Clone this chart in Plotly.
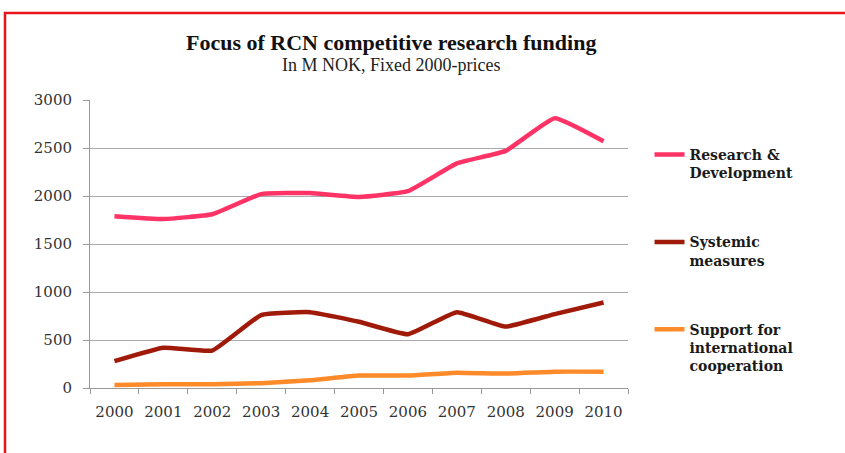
import plotly.graph_objects as go

years = ["2000", "2001", "2002", "2003", "2004", "2005", "2006", "2007", "2008", "2009", "2010"]
rd = [1790, 1760, 1810, 2020, 2030, 1990, 2050, 2340, 2470, 2810, 2570]
systemic = [280, 420, 390, 760, 790, 690, 560, 790, 640, 770, 890]
intl = [30, 40, 40, 50, 80, 130, 130, 160, 150, 170, 170]
names = ["Research &<br>Development", "Systemic<br>measures", "Support for<br>international<br>cooperation"]
colors = ["#FF3366", "#A01A0A", "#FF8A2A"]
yticks = [0, 500, 1000, 1500, 2000, 2500, 3000]

fig = go.Figure()
for i, (vals, nm, col) in enumerate(zip([rd, systemic, intl], names, colors)):
    fig.add_trace(go.Scatter(
        x=years, y=vals, name=nm, mode="lines",
        line=dict(color=col, width=4.5, shape="spline", smoothing=0.35),
        legendgroup=f"g{i}",
    ))

serif = "DejaVu Serif"
fig.update_layout(
    width=845, height=453,
    margin=dict(l=90, r=217, t=100, b=65),
    paper_bgcolor="white", plot_bgcolor="white",
    showlegend=True,
    legend=dict(
        x=1.04, y=0.865, xanchor="left", yanchor="top",
        font=dict(family=serif, size=14, color="#1a1a1a", weight="bold"),
        itemwidth=30, tracegroupgap=48, valign="top",
        bgcolor="rgba(0,0,0,0)",
    ),
    xaxis=dict(
        type="category", showgrid=False, showline=True, linecolor="#999999", linewidth=1,
        ticks="outside", tickson="boundaries", ticklen=5, tickcolor="#999999",
        tickfont=dict(family=serif, size=15, color="#333333"),
        ticklabelstandoff=10,
        range=[-0.5, 10.5],
    ),
    yaxis=dict(
        range=[0, 3000], tickvals=yticks, showgrid=True, gridcolor="#aaaaaa", gridwidth=1,
        showline=True, linecolor="#999999", linewidth=1, ticks="outside", ticklen=6,
        tickcolor="#999999", zeroline=False, ticklabelstandoff=8,
        tickfont=dict(family=serif, size=15, color="#333333"),
    ),
    annotations=[
        dict(text="<b>Focus of RCN competitive research funding</b>", xref="paper", yref="paper",
             x=0.5595, y=1.198, yanchor="middle", showarrow=False,
             font=dict(family="Liberation Serif", size=22, color="#111111")),
        dict(text="In M NOK, Fixed 2000-prices", xref="paper", yref="paper",
             x=0.5595, y=1.122, yanchor="middle", showarrow=False,
             font=dict(family="Liberation Serif", size=18, color="#222222")),
    ],
    shapes=[
        dict(type="rect", xref="paper", yref="paper", x0=-0.158, x1=1.42, y0=-0.3, y1=1.302,
             line=dict(color="#E8141A", width=2.5), fillcolor="rgba(0,0,0,0)", layer="above"),
    ],
)

fig.write_html("out.html", config={"displayModeBar": False},
               post_script="document.body.style.margin='0';")
